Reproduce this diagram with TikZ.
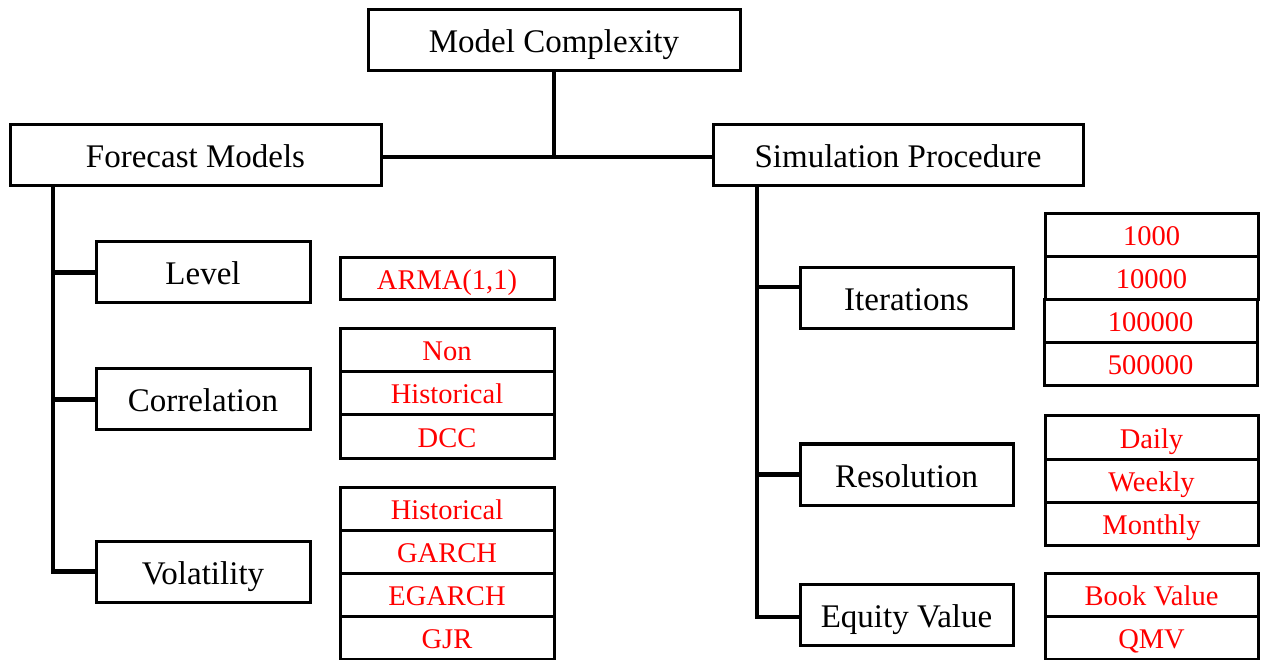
\documentclass[tikz,border=0pt]{standalone}
\usepackage{fontspec}
\setmainfont{Liberation Serif}
\begin{document}
\begin{tikzpicture}[x=1pt,y=-1pt,
  box/.style={draw=black,line width=3pt,inner sep=0pt,outer sep=0pt,minimum height=61pt,font=\fontsize{33}{40}\selectfont,text height=30pt,text depth=5pt},
  wide/.style={box,minimum width=371pt},
  mid/.style={box,minimum width=214pt},
  opt/.style={draw=black,line width=3pt,inner sep=0pt,outer sep=0pt,minimum width=214pt,minimum height=43pt,text=red,font=\fontsize{28.5}{34}\selectfont,text height=25pt,text depth=4pt},
  conn/.style={line width=4.8pt,line cap=butt,line join=miter}]
\useasboundingbox (0,0) rectangle (1262,660);
\fill[white] (0,0) rectangle (1262,660);
% top level
\node[wide,minimum width=372pt] (mc) at (554,40.5) {Model Complexity};
\node[wide] (fm) at (195.5,155.5) {Forecast Models};
\node[wide,minimum width=370pt] (sp) at (898,155.5) {Simulation Procedure};
% left children
\node[mid] (lev) at (203,272.5) {Level};
\node[mid] (cor) at (203,399.5) {Correlation};
\node[mid] (vol) at (203,571.5) {Volatility};
% left options
\node[opt,minimum height=42pt] (arma) at (447,279) {ARMA(1,1)};
\node[opt] (non) at (447,350.5) {Non};
\node[opt] (hista) at (447,393.5) {Historical};
\node[opt] (dcc) at (447,436.5) {DCC};
\node[opt] (histb) at (447,508.5) {Historical};
\node[opt] (garch) at (447,551.5) {GARCH};
\node[opt] (egarch) at (447,594.5) {EGARCH};
\node[opt] (gjr) at (447,637.5) {GJR};
% right children
\node[mid,minimum width=213pt] (it) at (906.5,298.5) {Iterations};
\node[mid,minimum width=213pt] (res) at (906.5,474.5) {Resolution};
\node[mid,minimum width=213pt] (eq) at (906.5,614.5) {Equity Value};
% right options
\node[opt,minimum width=213pt] (na) at (1151.5,235.5) {1000};
\node[opt,minimum width=213pt] (nb) at (1151.5,278.5) {10000};
\node[opt,minimum width=213pt] (nc) at (1150.5,321.5) {100000};
\node[opt,minimum width=213pt] (nd) at (1150.5,364.5) {500000};
\node[opt,minimum width=213pt] (daily) at (1151.5,437.5) {Daily};
\node[opt,minimum width=213pt] (weekly) at (1151.5,480.5) {Weekly};
\node[opt,minimum width=213pt] (monthly) at (1151.5,523.5) {Monthly};
\node[opt,minimum width=213pt] (book) at (1151.5,594.5) {Book Value};
\node[opt,minimum width=213pt] (qmv) at (1151.5,637.5) {QMV};
% connectors
\coordinate (hub) at (mc.south |- 0,157);
\draw[conn] (mc.south) -- (hub);
\draw[conn] (fm.east |- hub) -- (sp.west |- hub);
\coordinate (lt) at (53,186);
\draw[conn] (lt) -- (lt |- vol.west) -- (vol.west);
\draw[conn] (lt |- lev.west) -- (lev.west);
\draw[conn] (lt |- cor.west) -- (cor.west);
\coordinate (rt) at (757,186);
\coordinate (itb) at (it.west |- 0,287);
\coordinate (eqb) at (eq.west |- 0,617);
\draw[conn] (rt) -- (rt |- eqb) -- (eqb);
\draw[conn] (rt |- itb) -- (itb);
\draw[conn] (rt |- res.west) -- (res.west);
\end{tikzpicture}
\end{document}
